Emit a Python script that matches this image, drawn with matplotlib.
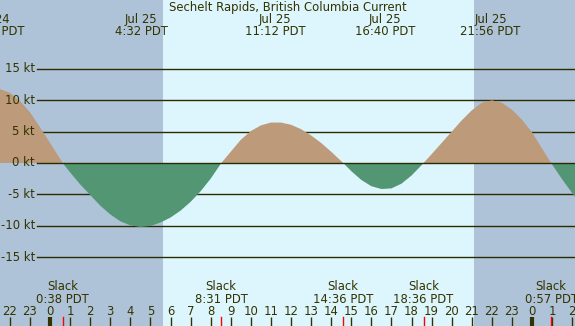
import matplotlib.pyplot as plt
import numpy as np

# hours since Jul 25 00:00 PDT, current speed in knots
hours = [-2.5, -2.0, -1.5, -1.0, -0.5, 0.0, 0.5, 0.63, 1.0, 1.5, 2.0, 2.5, 3.0, 3.5, 4.0, 4.5,
         5.0, 5.5, 6.0, 6.5, 7.0, 7.5, 8.0, 8.53, 9.0, 9.5, 10.0, 10.5, 11.0, 11.5, 12.0,
         12.5, 13.0, 13.5, 14.0, 14.5, 14.6, 15.0, 15.5, 16.0, 16.5, 17.0, 17.5, 18.0,
         18.5, 18.6, 19.0, 19.5, 20.0, 20.5, 21.0, 21.5, 22.0, 22.5, 23.0, 23.5, 24.0,
         24.5, 24.95, 25.5, 26.0, 26.5]
knots = [11.8, 11.2, 9.9, 8.1, 5.7, 3.2, 0.7, 0.0, -1.5, -3.4, -5.1, -6.8, -8.2, -9.3, -9.95, -10.2,
         -10.05, -9.5, -8.7, -7.6, -6.2, -4.5, -2.5, 0.0, 1.8, 3.7, 5.1, 6.0, 6.45, 6.45, 6.1,
         5.4, 4.4, 3.2, 1.8, 0.3, 0.0, -1.3, -2.7, -3.7, -4.15, -4.05, -3.3, -2.0,
         -0.35, 0.0, 1.4, 3.2, 5.0, 6.8, 8.4, 9.6, 10.0, 9.6, 8.5, 6.9, 4.9,
         2.3, 0.0, -2.6, -4.8, -6.9]

# max current events (top labels)
max_hours = [-2.77, 4.533, 11.2, 16.667, 21.933]
max_days = ["Jul 24", "Jul 25", "Jul 25", "Jul 25", "Jul 25"]
max_times = ["21:14 PDT", "4:32 PDT", "11:12 PDT", "16:40 PDT", "21:56 PDT"]

# slack events (bottom labels)
slack_hours = [0.633, 8.517, 14.6, 18.6, 24.95]
slack_times = ["0:38 PDT", "8:31 PDT", "14:36 PDT", "18:36 PDT", "0:57 PDT"]

sunrise = 5.63
sunset = 21.11
grid_levels = [15, 10, 5, 0, -5, -10, -15]
hour_ticks = list(range(-2, 27))

x0, x1 = -2.49, 26.14
text_color = "#333300"
night = "#afc3d8"
day = "#ddf6fe"
flood = "#bc9a7a"
ebb = "#529673"
fs = 8.4

plt.rcParams['font.family'] = 'DejaVu Sans'
fig = plt.figure(figsize=(5.75, 3.26), dpi=100)
ax = fig.add_axes([0, 0, 1, 1])
ax.set_xlim(x0, x1)
ax.set_ylim(-26, 26)
ax.axis('off')

# day / night background
ax.axvspan(x0, x1, color=day, lw=0, zorder=0)
ax.axvspan(x0, sunrise, color=night, lw=0, zorder=0)
ax.axvspan(sunset, x1, color=night, lw=0, zorder=0)

# grid lines and labels
for lv in grid_levels:
    ax.axhline(lv, xmin=37 / 575, xmax=1, color="#2b2b00", lw=1, zorder=1 if lv != 0 else 3)
    ax.text(35 / 575, lv, f"{lv} kt", transform=ax.get_yaxis_transform(), ha='right',
            va='center', fontsize=fs, color=text_color)

# current curve
h = np.array(hours)
k = np.array(knots)
ax.fill_between(h, k, 0, where=k >= 0, interpolate=True, color=flood, lw=0, zorder=2)
ax.fill_between(h, k, 0, where=k <= 0, interpolate=True, color=ebb, lw=0, zorder=2)

# title and max current labels
ax.text(0.5, 0.977, "Sechelt Rapids, British Columbia Current", transform=ax.transAxes,
        ha='center', va='center', fontsize=fs, color=text_color)
tr = ax.get_xaxis_transform()
for t, d, s in zip(max_hours, max_days, max_times):
    ax.text(t, 0.940, d, transform=tr, ha='center', va='center', fontsize=fs, color=text_color)
    ax.text(t, 0.902, s, transform=tr, ha='center', va='center', fontsize=fs, color=text_color)

# slack labels
for t, s in zip(slack_hours, slack_times):
    ax.text(t, 0.120, "Slack", transform=tr, ha='center', va='center', fontsize=fs, color=text_color)
    ax.text(t, 0.082, s, transform=tr, ha='center', va='center', fontsize=fs, color=text_color)
    ax.plot([t, t], [0, 0.028], transform=tr, color='red', lw=1, zorder=5, clip_on=False)

# hour ticks
for hr in hour_ticks:
    ax.text(hr, 0.044, str(hr % 24), transform=tr, ha='center', va='center', fontsize=fs,
            color=text_color)
    ax.plot([hr, hr], [0, 0.028], transform=tr, color=text_color,
            lw=3 if hr % 24 == 0 else 1, zorder=4, solid_capstyle='butt')

plt.savefig("out.png", dpi=100)
